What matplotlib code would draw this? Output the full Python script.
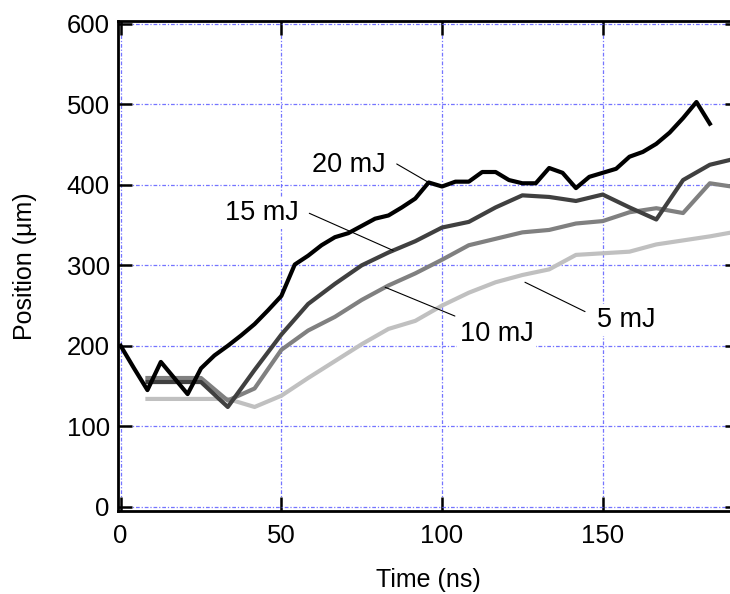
import numpy as np
import matplotlib
matplotlib.use("Agg")
import matplotlib.pyplot as plt

plt.rcParams['font.family'] = ['Liberation Sans', 'DejaVu Sans']

# Time axis for the 20 mJ series (fine sampling), ns
time_fine = [0, 4.17, 8.33, 12.5, 16.67, 20.83, 25, 29.17, 33.33, 37.5,
             41.67, 45.83, 50, 54.17, 58.33, 62.5, 66.67, 70.83, 75, 79.17,
             83.33, 87.5, 91.67, 95.83, 100, 104.17, 108.33, 112.5, 116.67,
             120.83, 125, 129.17, 133.33, 137.5, 141.67, 145.83, 150, 154.17,
             158.33, 162.5, 166.67, 170.83, 175, 179.17, 183.33]
pos_20mJ = [200, 172, 145, 180, 160, 140, 172, 188, 200, 213,
            227, 244, 262, 301, 312, 325, 335, 340, 349, 358,
            362, 372, 383, 403, 398, 404, 404, 416, 416,
            406, 402, 402, 421, 415, 396, 410, 415, 420,
            435, 441, 451, 465, 483, 503, 476]

# Time axis for the 5, 10 and 15 mJ series (coarse sampling), ns
time_coarse = [8.33, 16.67, 25, 33.33, 41.67, 50, 58.33, 66.67, 75, 83.33,
               91.67, 100, 108.33, 116.67, 125, 133.33, 141.67, 150, 158.33,
               166.67, 175, 183.33, 191.67]
pos_15mJ = [155, 155, 155, 124, 170, 214, 252, 277, 300, 316,
            330, 347, 354, 372, 387, 385, 380, 388, 372,
            357, 406, 425, 433]
pos_10mJ = [160, 160, 160, 132, 147, 195, 219, 236, 257, 275,
            290, 307, 325, 333, 341, 344, 352, 355, 366,
            371, 365, 402, 397]
pos_5mJ = [134, 134, 134, 134, 124, 138, 160, 181, 202, 221,
           231, 250, 266, 279, 288, 295, 313, 315, 317,
           326, 331, 336, 342]

x_ticks = [0, 50, 100, 150]
y_ticks = [0, 100, 200, 300, 400, 500, 600]

fig = plt.figure(figsize=(7.30, 5.94), dpi=100)
ax = fig.add_axes([0.1616, 0.1397, 0.8507, 0.8254])

ax.plot(time_coarse, pos_5mJ, color='#c0c0c0', lw=3, zorder=3)
ax.plot(time_coarse, pos_10mJ, color='#808080', lw=3, zorder=4)
ax.plot(time_coarse, pos_15mJ, color='#404040', lw=3, zorder=5)
ax.plot(time_fine, pos_20mJ, color='#000000', lw=3, zorder=6)

ax.set_xlim(-0.84, 192.4)
ax.set_ylim(-5.3, 604)
ax.set_xticks(x_ticks)
ax.set_yticks(y_ticks)

ax.grid(True, color='#5c5cff', lw=0.9, alpha=0.85,
        linestyle=(0, (3, 1.5, 1, 1.5)), zorder=1)
ax.set_axisbelow(True)

for s in ax.spines.values():
    s.set_linewidth(2)
ax.tick_params(direction='in', length=10, width=1.8, top=True, right=True,
               labelsize=18.5)
ax.tick_params(axis='x', pad=9)
ax.tick_params(axis='y', pad=6)

ax.set_xlabel('Time (ns)', fontsize=18, labelpad=15)
ax.set_ylabel('Position (\u03bcm)', fontsize=18, labelpad=21)

# Labels with leader lines: (text, text x, text baseline y, leader start, leader end)
box = dict(facecolor='white', edgecolor='none', pad=2)
labels = [
    ('20 mJ', 59.6, 415.6, (85.9, 426), (time_fine[23], pos_20mJ[23])),
    ('15 mJ', 32.5, 356.0, (58.7, 364.7),
     (84.8, float(np.interp(84.8, time_coarse, pos_15mJ)))),
    ('10 mJ', 105.6, 206.0, (104.0, 237.0),
     (82.3, float(np.interp(82.3, time_coarse, pos_10mJ)))),
    ('5 mJ', 148.3, 223.4, (144.5, 242.5), (125.8, 279.0)),
]
for txt, tx, ty, p0, p1 in labels:
    ax.text(tx, ty, txt, fontsize=19.5, ha='left', va='baseline',
            bbox=box, zorder=7)
    ax.annotate('', xy=p1, xytext=p0,
                arrowprops=dict(arrowstyle='-', lw=0.8, color='black',
                                shrinkA=0, shrinkB=0), zorder=8)

fig.savefig('out.png', dpi=100)
